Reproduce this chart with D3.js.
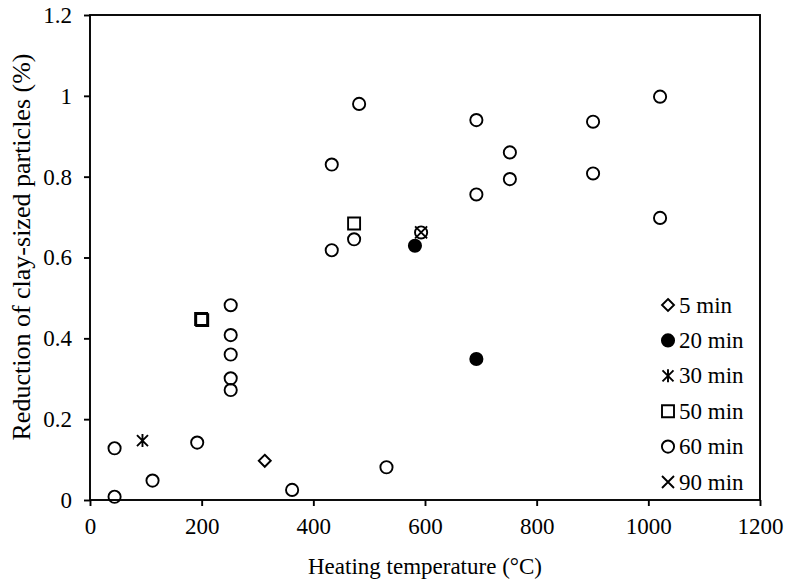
<!DOCTYPE html>
<html>
<head>
<meta charset="utf-8">
<script src="https://cdn.jsdelivr.net/npm/d3@7"></script>
<style>
  html, body { margin: 0; padding: 0; background: #fff; }
  svg text { font-family: "Liberation Serif", "Times New Roman", serif; fill: #000; }
</style>
</head>
<body>
<svg id="chart" width="787" height="583"></svg>
<script>
// data
var xTicks = [0, 200, 400, 600, 800, 1000, 1200];
var yTicks = [0, 0.2, 0.4, 0.6, 0.8, 1, 1.2];
var yTickLabels = ["0", "0.2", "0.4", "0.6", "0.8", "1", "1.2"];

var seriesNames = ["5 min", "20 min", "30 min", "50 min", "60 min", "90 min"];
var seriesShapes = ["diamond", "dot", "asterisk", "square", "circle", "times"];

var temp5 = [313];
var red5 = [0.097];
var temp20 = [582, 692];
var red20 = [0.629, 0.349];
var temp30 = [94];
var red30 = [0.147];
var temp50 = [199, 201, 473];
var red50 = [0.448, 0.445, 0.684];
var temp60 = [44, 44, 112, 192, 252, 252, 252, 252, 252, 362, 433, 433, 473, 482, 531, 593, 692, 692, 752, 752, 901, 901, 1021, 1021];
var red60 = [0.128, 0.008, 0.048, 0.142, 0.482, 0.408, 0.360, 0.301, 0.272, 0.025, 0.618, 0.830, 0.645, 0.980, 0.081, 0.662, 0.940, 0.756, 0.860, 0.794, 0.936, 0.808, 0.998, 0.698];
var temp90 = [593];
var red90 = [0.662];

var allTemps = [temp5, temp20, temp30, temp50, temp60, temp90];
var allReds = [red5, red20, red30, red50, red60, red90];

var margin = {left: 90, top: 15, right: 27, bottom: 83};
var W = 787, H = 583;
var svg = d3.select("#chart");

var x = d3.scaleLinear().domain([0, 1200]).range([margin.left, W - margin.right]);
var y = d3.scaleLinear().domain([0, 1.2]).range([H - margin.bottom, margin.top]);

// marker paths, centred at 0,0
function markerPath(shape) {
	var p = d3.path();
	if (shape == "circle" || shape == "dot") {
		p.arc(0, 0, 6.1, 0, 2 * Math.PI);
	} else if (shape == "square") {
		p.rect(-6, -6, 12, 12);
	} else if (shape == "diamond") {
		p.moveTo(0, -6); p.lineTo(6, 0); p.lineTo(0, 6); p.lineTo(-6, 0); p.closePath();
	} else if (shape == "times") {
		p.moveTo(-6, -6); p.lineTo(6, 6); p.moveTo(6, -6); p.lineTo(-6, 6);
	} else if (shape == "asterisk") {
		p.moveTo(-5.5, -5.5); p.lineTo(5.5, 5.5); p.moveTo(5.5, -5.5); p.lineTo(-5.5, 5.5);
		p.moveTo(0, -6.5); p.lineTo(0, 6.5);
	}
	return p.toString();
}

function drawMarker(g, shape, px, py) {
	g.append("path")
		.attr("transform", "translate(" + px + "," + py + ")")
		.attr("d", markerPath(shape))
		.attr("fill", shape == "dot" ? "#000" : "none")
		.attr("stroke", "#000")
		.attr("stroke-width", 1.9);
}

// axes
var xAxis = svg.append("g").attr("transform", "translate(0," + (H - margin.bottom) + ")")
	.call(d3.axisBottom(x).tickValues(xTicks).tickSize(6).tickPadding(12).tickFormat(d3.format("d")));
var yAxis = svg.append("g").attr("transform", "translate(" + margin.left + ",0)")
	.call(d3.axisLeft(y).tickValues(yTicks).tickSize(6).tickPadding(12).tickFormat(function(d, i) { return yTickLabels[i]; }));
[xAxis, yAxis].forEach(function(a) {
	a.select(".domain").remove();
	a.selectAll(".tick line").attr("stroke", "#000").attr("stroke-width", 1.9);
	a.selectAll(".tick text").style("font-size", "23px").style("font-family", "'Liberation Serif', 'Times New Roman', serif");
});

// plot frame
svg.append("rect")
	.attr("x", x(0)).attr("y", y(1.2))
	.attr("width", x(1200) - x(0)).attr("height", y(0) - y(1.2))
	.attr("fill", "none").attr("stroke", "#000").attr("stroke-width", 1.9);

// points
var pts = svg.append("g");
for (var s = 0; s < seriesNames.length; s++) {
	for (var i = 0; i < allTemps[s].length; i++) {
		drawMarker(pts, seriesShapes[s], x(allTemps[s][i]), y(allReds[s][i]));
	}
}

// legend
var legend = svg.append("g").attr("transform", "translate(668,305)");
seriesNames.forEach(function(name, i) {
	var row = legend.append("g").attr("transform", "translate(0," + (i * 35.4) + ")");
	drawMarker(row, seriesShapes[i], 0, 0);
	row.append("text").attr("x", 11).attr("y", 7.5).style("font-size", "23px").text(name);
});

// axis titles
svg.append("text").attr("x", (x(0) + x(1200)) / 2).attr("y", 574)
	.attr("text-anchor", "middle").style("font-size", "23px").text("Heating temperature (°C)");
svg.append("g").attr("transform", "translate(30,247)")
	.append("text").attr("text-anchor", "middle").attr("transform", "rotate(-90)")
	.style("font-size", "26px").text("Reduction of clay-sized particles (%)");
</script>
</body>
</html>
